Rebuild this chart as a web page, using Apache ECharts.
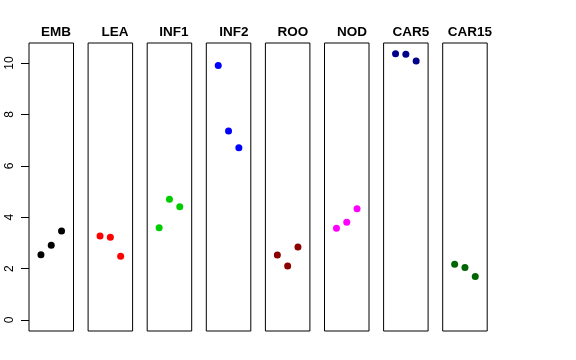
<!DOCTYPE html>
<html>
<head>
<meta charset="utf-8">
<script src="https://cdn.jsdelivr.net/npm/echarts@6/dist/echarts.min.js"></script>
<style>html,body{margin:0;padding:0;background:#fff}#c{width:576px;height:360px}</style>
</head>
<body>
<div id="c"></div>
<script>
var categories = ['EMB', 'LEA', 'INF1', 'INF2', 'ROO', 'NOD', 'CAR5', 'CAR15'];
var xPositions = [1, 2, 3];
var emb = [2.54, 2.91, 3.46];
var lea = [3.27, 3.22, 2.48];
var inf1 = [3.59, 4.70, 4.41];
var inf2 = [9.90, 7.35, 6.70];
var roo = [2.53, 2.10, 2.84];
var nod = [3.57, 3.80, 4.33];
var car5 = [10.36, 10.34, 10.08];
var car15 = [2.17, 2.04, 1.69];
var yTicks = [0, 2, 4, 6, 8, 10];
var colors = ['#000000', '#FF0000', '#00CD00', '#0000FF', '#8B0000', '#FF00FF', '#00008B', '#006400'];

var values = [emb, lea, inf1, inf2, roo, nod, car5, car15];
var chart = echarts.init(document.getElementById('c'), null, {renderer: 'canvas'});

var grids = [], xAxes = [], yAxes = [], series = [], titles = [];
var panelLeft0 = 29, panelStep = 59.1, panelW = 44.5, panelTop = 43, panelH = 288;
for (var i = 0; i < categories.length; i++) {
  var L = panelLeft0 + i * panelStep;
  grids.push({left: L, top: panelTop, width: panelW, height: panelH, show: true, borderColor: '#000', borderWidth: 1, backgroundColor: 'transparent'});
  xAxes.push({type: 'value', gridIndex: i, min: -0.16, max: 4.16, show: false});
  yAxes.push({type: 'value', gridIndex: i, min: -0.43, max: 10.78, show: false});
  series.push({
    type: 'scatter', xAxisIndex: i, yAxisIndex: i, symbol: 'circle', symbolSize: 7,
    itemStyle: {color: colors[i], opacity: 1},
    data: xPositions.map(function (x, j) { return [x, values[i][j]]; }),
    silent: true
  });
  titles.push({
    text: categories[i], left: Math.round(L + panelW / 2), top: 20, textAlign: 'center',
    textStyle: {fontFamily: 'Liberation Sans', fontWeight: 'bold', fontSize: 13.5, color: '#000'}
  });
}
// axis-only grid for the left tick labels (0 at y=320, 10 at y=63)
grids.push({left: 29, top: 63, width: 10, height: 257, show: false});
xAxes.push({type: 'value', gridIndex: 8, min: 0, max: 1, show: false});
yAxes.push({
  type: 'value', gridIndex: 8, min: yTicks[0], max: yTicks[yTicks.length - 1], interval: 2,
  axisLine: {show: false},
  axisTick: {show: true, length: 8, lineStyle: {color: '#000', width: 1}},
  splitLine: {show: false},
  axisLabel: {show: true, rotate: 90, margin: 13, color: '#000', fontSize: 12,
    fontFamily: 'Liberation Sans'}
});

chart.setOption({
  animation: false,
  backgroundColor: '#fff',
  title: titles,
  grid: grids,
  xAxis: xAxes,
  yAxis: yAxes,
  series: series
});
</script>
</body>
</html>
